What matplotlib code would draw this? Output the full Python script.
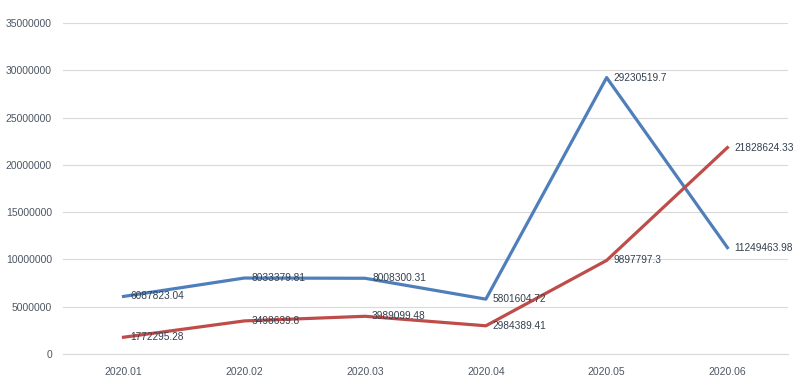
import matplotlib.pyplot as plt

months = ['2020.01', '2020.02', '2020.03', '2020.04', '2020.05', '2020.06']
blue_vals = [6087823.04, 8033379.81, 8008300.31, 5801604.72, 29230519.7, 11249463.98]
red_vals = [1772295.28, 3498639.8, 3989099.48, 2984389.41, 9897797.3, 21828624.33]
blue_labels = ['6087823.04', '8033379.81', '8008300.31', '5801604.72', '29230519.7', '11249463.98']
red_labels = ['1772295.28', '3498639.8', '3989099.48', '2984389.41', '9897797.3', '21828624.33']

plt.rcParams['font.family'] = ['Liberation Sans', 'DejaVu Sans']

fig = plt.figure(figsize=(7.99, 3.91), dpi=100)
ax = fig.add_axes([0.079, 0.0946, 0.907, 0.8466])

x = list(range(len(months)))
ax.plot(x, blue_vals, color='#4F7FBA', lw=2.3, zorder=3)
ax.plot(x, red_vals, color='#BE4D4A', lw=2.3, zorder=3)

for xi, v, s in zip(x, blue_vals, blue_labels):
    ax.annotate(s, (xi, v), xytext=(5, 0), textcoords='offset points',
                ha='left', va='center', fontsize=7.3, color='#34404F', zorder=4)
for xi, v, s in zip(x, red_vals, red_labels):
    ax.annotate(s, (xi, v), xytext=(5, 0), textcoords='offset points',
                ha='left', va='center', fontsize=7.3, color='#34404F', zorder=4)

ax.set_xlim(-0.5, 5.5)
ax.set_ylim(0, 35000000)
ax.set_yticks(range(0, 35000001, 5000000))
ax.set_yticklabels([str(t) for t in range(0, 35000001, 5000000)])
ax.set_xticks(x)
ax.set_xticklabels(months)
ax.grid(axis='y', color='#D9D9D9', lw=0.8)
ax.set_axisbelow(True)
for sp in ['top', 'right', 'left']:
    ax.spines[sp].set_visible(False)
ax.spines['bottom'].set_color('#D9D9D9')
ax.tick_params(axis='both', length=0, labelsize=7.5, colors='#4D5663')
ax.tick_params(axis='x', pad=9)
ax.tick_params(axis='y', pad=8)

fig.savefig('out.png', dpi=100)
